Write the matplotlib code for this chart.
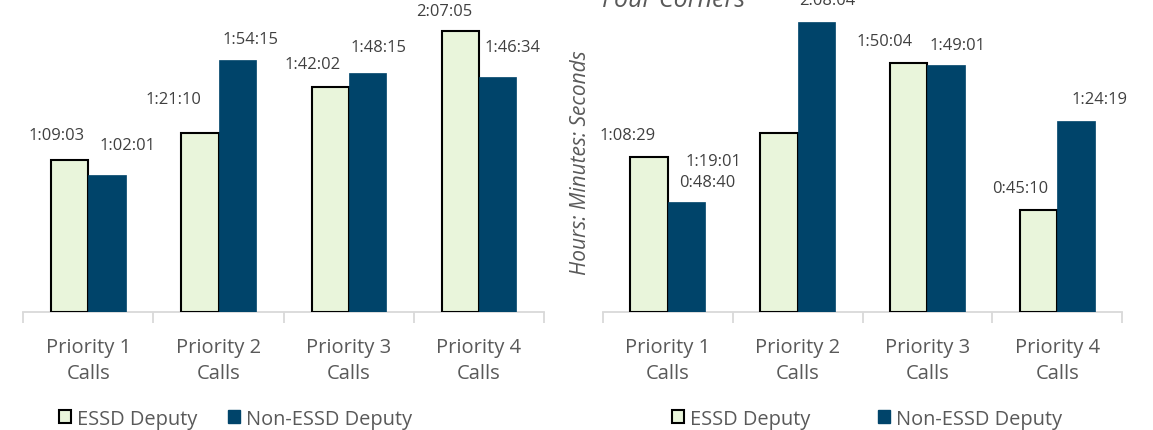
import numpy as np
import matplotlib.pyplot as plt
from matplotlib.patches import Patch

plt.rcParams['font.family'] = ['Open Sans', 'DejaVu Sans']

# data (h:mm:ss)
categories = ["Priority 1\nCalls", "Priority 2\nCalls", "Priority 3\nCalls", "Priority 4\nCalls"]
left_essd = ["1:09:03", "1:21:10", "1:42:02", "2:07:05"]
left_non = ["1:02:01", "1:54:15", "1:48:15", "1:46:34"]
right_essd = ["1:08:29", "1:19:01", "1:50:04", "0:45:10"]
right_non = ["0:48:40", "2:08:04", "1:49:01", "1:24:19"]
series_names = ["ESSD Deputy", "Non-ESSD Deputy"]

# label offsets in pixels from bar top centre (dx, dy) - labels were hand placed
left_essd_off = [(-13, 25), (-26, 34), (-18, 23), (-16, 20)]
left_non_off = [(21, 30), (13, 21), (11, 26), (15, 30)]
right_essd_off = [(-21, 22), (-66, -28), (-24, 22), (-19, 22)]
right_non_off = [(21, 20), (11, 22), (11, 20), (24, 22)]

ESSD_COLOR = "#E9F5DB"
NON_COLOR = "#00446A"
TEXT = "#595959"
LABEL = "#404040"
GRID = "#D9D9D9"


def to_sec(s):
    h, m, sec = map(int, s.split(":"))
    return h * 3600 + m * 60 + sec


def draw(ax, essd, non, essd_off, non_off, ymax):
    x = np.arange(len(categories))
    w = 0.286
    ev = [to_sec(v) for v in essd]
    nv = [to_sec(v) for v in non]
    ax.bar(x - w / 2, ev, w, color=ESSD_COLOR, edgecolor="black", linewidth=1.5, zorder=3)
    ax.bar(x + w / 2, nv, w, color=NON_COLOR, edgecolor=NON_COLOR, linewidth=0.5, zorder=3)
    for i in range(len(x)):
        ax.annotate(essd[i], (x[i] - w / 2, ev[i]), xytext=essd_off[i], textcoords="offset pixels",
                    ha="center", va="center", fontsize=11.9, color=LABEL, annotation_clip=False)
        ax.annotate(non[i], (x[i] + w / 2, nv[i]), xytext=non_off[i], textcoords="offset pixels",
                    ha="center", va="center", fontsize=11.9, color=LABEL, annotation_clip=False)
    ax.set_xlim(-0.5, len(x) - 0.5)
    ax.set_ylim(0, ymax)
    for s in ["top", "right", "left"]:
        ax.spines[s].set_visible(False)
    ax.spines["bottom"].set_color(GRID)
    ax.spines["bottom"].set_linewidth(1.3)
    ax.set_yticks([])
    ax.set_xticks(x)
    ax.set_xticklabels(categories, fontsize=14.5, color=TEXT, linespacing=1.42)
    ax.tick_params(axis="x", which="major", length=0, pad=17.5)
    ax.set_xticks(np.arange(len(x) + 1) - 0.5, minor=True)
    ax.tick_params(axis="x", which="minor", length=8, width=1.3, color=GRID)


fig = plt.figure(figsize=(11.53, 4.31), dpi=100)
W, H = 1153, 431

ax1 = fig.add_axes([23.3 / W, 117.7 / H, 520.7 / W, 313.3 / H])
draw(ax1, left_essd, left_non, left_essd_off, left_non_off, 313.3 / 0.03685)

ax2 = fig.add_axes([602.7 / W, 117.7 / H, 519.6 / W, 313.3 / H])
draw(ax2, right_essd, right_non, right_essd_off, right_non_off, 313.3 / 0.0378)

fig.text(602 / W, 1 - 7 / H, "Four Corners", style="italic", fontsize=18, color=TEXT,
         ha="left", va="baseline")
fig.text(580 / W, 1 - 163 / H, "Hours: Minutes: Seconds", style="italic", fontsize=15,
         color=TEXT, rotation=90, ha="center", va="center")

handles = [Patch(facecolor=ESSD_COLOR, edgecolor="black", linewidth=1.5),
           Patch(facecolor=NON_COLOR, edgecolor=NON_COLOR)]
for x0, colsp in [(59, 1.5), (672, 3.35)]:
    fig.legend(handles, series_names, loc="center left", bbox_to_anchor=(x0 / W, 11 / H),
               ncol=2, frameon=False, fontsize=14.4, borderpad=0, borderaxespad=0,
               handlelength=0.62, handleheight=0.62, handletextpad=0.3, columnspacing=colsp,
               labelcolor=TEXT)

fig.savefig("out.png", dpi=100)
